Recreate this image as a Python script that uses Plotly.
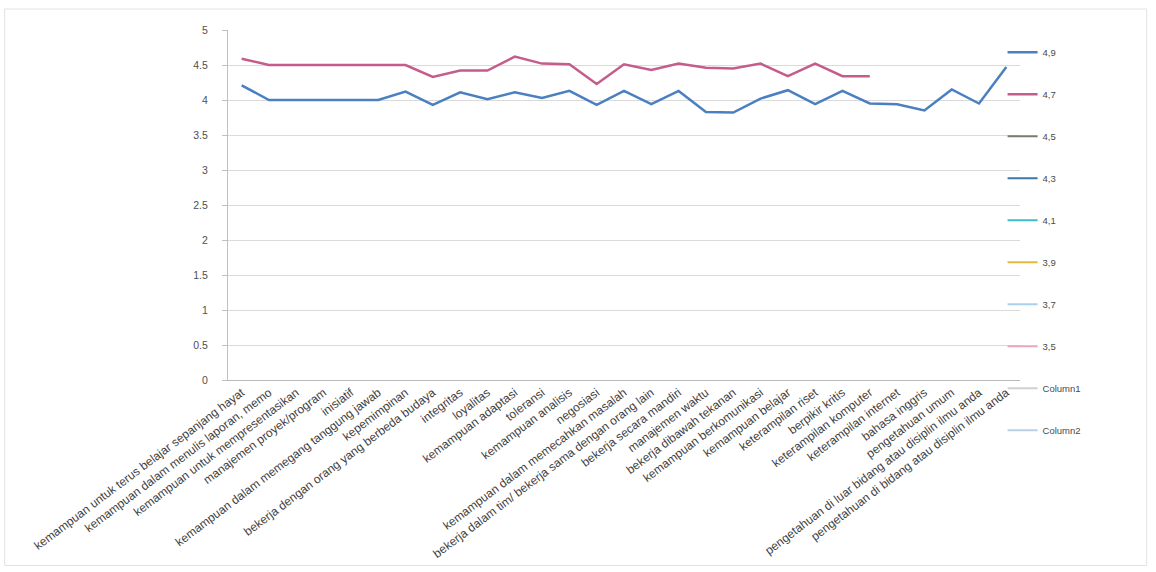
import plotly.graph_objects as go

# Skill categories along the x axis
categories = [
    "kemampuan untuk terus belajar sepanjang hayat",
    "kemampuan dalam menulis laporan, memo",
    "kemampuan untuk mempresentasikan",
    "manajemen proyek/program",
    "inisiatif",
    "kemampuan dalam memegang tanggung jawab",
    "kepemimpinan",
    "bekerja dengan orang yang berbeda budaya",
    "integritas",
    "loyalitas",
    "kemampuan adaptasi",
    "toleransi",
    "kemampuan analisis",
    "negosiasi",
    "kemampuan dalam memecahkan masalah",
    "bekerja dalam tim/ bekerja sama dengan orang lain",
    "bekerja secara mandiri",
    "manajemen waktu",
    "bekerja dibawah tekanan",
    "kemampuan berkomunikasi",
    "kemampuan belajar",
    "keterampilan riset",
    "berpikir kritis",
    "keterampilan komputer",
    "keterampilan internet",
    "bahasa inggris",
    "pengetahuan umum",
    "pengetahuan di luar bidang atau disiplin ilmu anda",
    "pengetahuan di bidang atau disiplin ilmu anda",
]

# Series values
series_49 = [4.21, 4.0, 4.0, 4.0, 4.0, 4.0, 4.12, 3.93, 4.11, 4.01,
             4.11, 4.03, 4.13, 3.93, 4.13, 3.94, 4.13, 3.83, 3.82, 4.02,
             4.14, 3.94, 4.13, 3.95, 3.94, 3.85, 4.15, 3.95, 4.47]
series_47 = [4.59, 4.5, 4.5, 4.5, 4.5, 4.5, 4.5, 4.33, 4.42, 4.42,
             4.62, 4.52, 4.51, 4.23, 4.51, 4.43, 4.52, 4.46, 4.45, 4.52,
             4.34, 4.52, 4.34, 4.34]

# Remaining series in the table carry no values
empty_series = ["4,5", "4,3", "4,1", "3,9", "3,7", "3,5", "Column1", "Column2"]

y_ticks = [0, 0.5, 1, 1.5, 2, 2.5, 3, 3.5, 4, 4.5, 5]

colors = {
    "4,9": "#4a7fc1",
    "4,7": "#c45c8c",
    "4,5": "#7a7a6a",
    "4,3": "#3f78a8",
    "4,1": "#3cbcc4",
    "3,9": "#e8b838",
    "3,7": "#a9d0ee",
    "3,5": "#eaa6b8",
    "Column1": "#d0d0d0",
    "Column2": "#b8d0e8",
}

fig = go.Figure()

fig.add_trace(go.Scatter(
    x=categories, y=series_49, name="4,9", mode="lines",
    line=dict(color=colors["4,9"], width=2.5), legendgroup="a",
))
fig.add_trace(go.Scatter(
    x=categories[:len(series_47)], y=series_47, name="4,7", mode="lines",
    line=dict(color=colors["4,7"], width=2.5), legendgroup="b",
))
for i, name in enumerate(empty_series):
    fig.add_trace(go.Scatter(
        x=categories, y=[None] * len(categories), name=name, mode="lines",
        line=dict(color=colors[name], width=2), legendgroup=f"g{i}",
    ))

fig.update_layout(
    width=1156, height=572,
    margin=dict(l=228, r=136, t=30, b=192),
    paper_bgcolor="white", plot_bgcolor="white",
    font=dict(family="Liberation Sans, Arial, sans-serif", size=10, color="#555555"),
    showlegend=True,
    legend=dict(
        x=0.978, y=0.978, xanchor="left", yanchor="top",
        bgcolor="rgba(0,0,0,0)", tracegroupgap=23, maxheight=520,
        font=dict(size=9.5, color="#4a4a4a"),
    ),
    xaxis=dict(
        type="category", categoryorder="array", categoryarray=categories,
        range=[-0.5, len(categories) - 0.5],
        tickangle=-37, tickfont=dict(size=12, color="#3f3f3f"),
        showgrid=False, showline=True, linecolor="#b8b8b8", linewidth=1,
        ticks="", zeroline=False,
    ),
    yaxis=dict(
        range=[0, 5], tickvals=y_ticks,
        showgrid=True, gridcolor="#dadada", gridwidth=1,
        showline=True, linecolor="#b9c0cc", linewidth=1,
        ticks="outside", ticklen=5, tickcolor="#b9c0cc",
        ticklabelstandoff=12, tickfont=dict(size=10.5, color="#4f4f4f"),
        zeroline=False,
    ),
    shapes=[dict(
        type="rect", xref="paper", yref="paper",
        x0=-0.282, x1=1.16, y0=-0.53, y1=1.06,
        line=dict(color="#e2e2e2", width=1),
    )],
)

fig.write_html("out.html")
